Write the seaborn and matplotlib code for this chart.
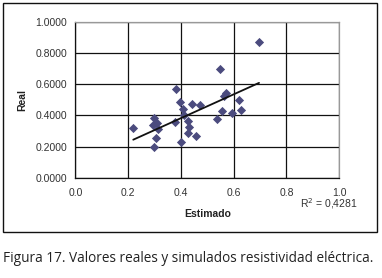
import numpy as np
import pandas as pd
import seaborn as sns
import matplotlib.pyplot as plt
from matplotlib.patches import Rectangle

# Data
estimado = [0.219, 0.299, 0.293, 0.308, 0.312, 0.306, 0.299, 0.377, 0.381, 0.395,
            0.406, 0.412, 0.428, 0.431, 0.425, 0.399, 0.443, 0.472, 0.456, 0.535,
            0.554, 0.563, 0.572, 0.594, 0.621, 0.629, 0.548, 0.696]
real = [0.318, 0.382, 0.339, 0.349, 0.311, 0.256, 0.201, 0.360, 0.567, 0.488,
        0.444, 0.400, 0.362, 0.324, 0.291, 0.230, 0.474, 0.467, 0.269, 0.376,
        0.427, 0.525, 0.544, 0.414, 0.499, 0.438, 0.695, 0.867]
r2_text = "R$^2$ = 0,4281"
caption = "Figura 17. Valores reales y simulados resistividad eléctrica."

df = pd.DataFrame({"Estimado": estimado, "Real": real})

# Figure
sns.set_style("white")
plt.rcParams['font.family'] = ['Liberation Sans', 'DejaVu Sans']
fig = plt.figure(figsize=(3.82, 2.78), dpi=100)
ax = fig.add_axes([0.1976, 0.3597, 0.888 - 0.1976, 0.922 - 0.3597])

marker_color = "#4B4B7E"
sns.scatterplot(x="Estimado", y="Real", data=df, ax=ax, marker="D", s=22,
                color=marker_color, edgecolor=marker_color, linewidth=0, zorder=3)
sns.regplot(x="Estimado", y="Real", data=df, ax=ax, scatter=False, ci=None,
            truncate=True, line_kws={"color": "#111111", "linewidth": 1.3, "zorder": 4})

# Axis
ax.set_xlim(0, 1.0)
ax.set_ylim(0, 1.0)
ax.set_xticks(np.arange(0, 1.01, 0.2))
ax.set_yticks(np.arange(0, 1.01, 0.2))
ax.set_xticklabels(["%.1f" % v for v in np.arange(0, 1.01, 0.2)])
ax.set_yticklabels(["%.4f" % v for v in np.arange(0, 1.01, 0.2)])
ax.grid(True, color="#111111", linewidth=0.9)
ax.set_axisbelow(True)
ax.tick_params(axis="both", direction="inout", length=6, width=0.9, color="#111111",
               labelsize=7.5, labelcolor="#333333", pad=3)
ax.tick_params(axis="x", pad=4)
for side in ["left", "bottom"]:
    ax.spines[side].set_color("#111111")
    ax.spines[side].set_linewidth(0.9)
for side in ["right", "top"]:
    ax.spines[side].set_color("#999999")
    ax.spines[side].set_linewidth(0.9)
ax.set_xlabel("Estimado", fontsize=7.5, fontweight="bold", color="#222222", labelpad=8)
ax.set_ylabel("Real", fontsize=7.5, fontweight="bold", color="#222222", labelpad=6)

fig.text(329 / 382, 1 - 204 / 278, r2_text, fontsize=7.5, color="#333333",
         ha="center", va="center")

# Chart box and caption
fig.patches.append(Rectangle((3 / 382, 1 - 232 / 278), 374 / 382, 229 / 278,
                             transform=fig.transFigure, fill=False,
                             edgecolor="#111111", linewidth=1.0))
fig.text(3 / 382, 1 - 259 / 278, caption, fontsize=9.8, color="#222222",
         family=["Open Sans", "DejaVu Sans"], ha="left", va="center")

fig.savefig("out.png", dpi=100)
